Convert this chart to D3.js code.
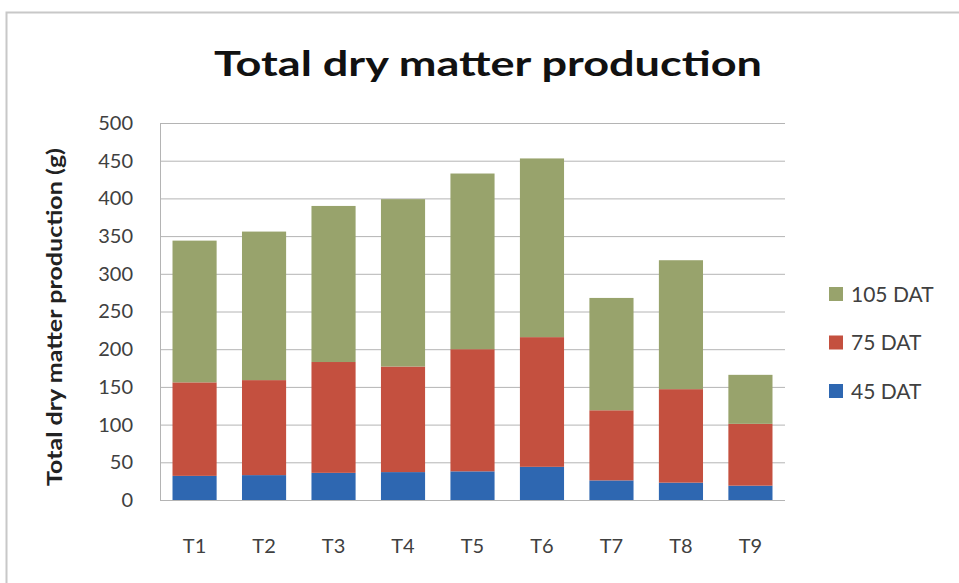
<!DOCTYPE html>
<html><head><meta charset="utf-8">
<script src="https://cdn.jsdelivr.net/npm/d3@7"></script>
<style>html,body{margin:0;padding:0;background:#fff;}svg{display:block;}</style>
</head><body>
<svg id="c" width="959" height="583"></svg>
<script>
const categories = ["T1","T2","T3","T4","T5","T6","T7","T8","T9"];
const dat45  = [32, 33, 36, 37, 38, 44, 26, 23, 19];
const dat75  = [124, 126, 147, 140, 162, 172, 93, 124, 82];
const dat105 = [188, 197, 207, 222, 233, 237, 149, 171, 65];
const seriesNames = ["45 DAT", "75 DAT", "105 DAT"];
const seriesColors = ["#2e67b1", "#c4503f", "#98a36c"];
const yTicks = [0, 50, 100, 150, 200, 250, 300, 350, 400, 450, 500];

const rows = categories.map((c, i) => ({cat: c, "45 DAT": dat45[i], "75 DAT": dat75[i], "105 DAT": dat105[i]}));
const stack = d3.stack().keys(seriesNames)(rows);

const svg = d3.select("#c");
const font = "Lato, 'Open Sans', sans-serif";
const m = {left: 160, right: 785, top: 123, bottom: 500};

// chart border
svg.append("path").attr("d", "M6.5,600 L6.5,12.5 L980,12.5")
  .attr("fill", "none").attr("stroke", "#c8c8c8").attr("stroke-width", 2);

const x = d3.scaleBand().domain(categories).range([m.left, m.right]).paddingInner(0.365).paddingOuter(0.18);
const y = d3.scaleLinear().domain([0, 500]).range([m.bottom, m.top]);

// gridlines
svg.append("g").selectAll("line").data(yTicks).join("line")
  .attr("x1", m.left).attr("x2", m.right)
  .attr("y1", d => y(d) + 0.5).attr("y2", d => y(d) + 0.5)
  .attr("stroke", "#b4b4b4").attr("stroke-width", 1);
// y axis line
svg.append("line").attr("x1", m.left + 0.5).attr("x2", m.left + 0.5)
  .attr("y1", m.top).attr("y2", m.bottom).attr("stroke", "#b4b4b4");

// bars
svg.append("g").selectAll("g").data(stack).join("g")
  .attr("fill", (d, i) => seriesColors[i])
  .selectAll("rect").data(d => d).join("rect")
  .attr("x", d => x(d.data.cat))
  .attr("width", x.bandwidth())
  .attr("y", d => y(d[1]))
  .attr("height", d => y(d[0]) - y(d[1]));

// y ticks
const yAxis = svg.append("g").attr("transform", `translate(${m.left},0)`)
  .call(d3.axisLeft(y).tickValues(yTicks).tickSize(0).tickPadding(27));
yAxis.select(".domain").remove();
yAxis.selectAll("text").attr("font-family", font).attr("font-size", 20).attr("fill", "#404040");

// x ticks
const xAxis = svg.append("g").attr("transform", `translate(0,${m.bottom})`)
  .call(d3.axisBottom(x).tickSize(0).tickPadding(39));
xAxis.select(".domain").remove();
xAxis.selectAll("text").attr("font-family", font).attr("font-size", 20).attr("fill", "#404040");

// title
svg.append("text").attr("x", 488).attr("y", 76).attr("text-anchor", "middle")
  .attr("font-family", font).attr("font-weight", "bold").attr("font-size", 35)
  .attr("fill", "#111").attr("textLength", 548).attr("lengthAdjust", "spacingAndGlyphs")
  .text("Total dry matter production");

// y title
svg.append("text").attr("transform", "translate(62,317) rotate(-90)").attr("text-anchor", "middle")
  .attr("font-family", font).attr("font-weight", "bold").attr("font-size", 20)
  .attr("fill", "#222").attr("textLength", 338).attr("lengthAdjust", "spacingAndGlyphs")
  .text("Total dry matter production (g)");

// legend
const legendOrder = [2, 1, 0];
const lg = svg.append("g").selectAll("g").data(legendOrder).join("g")
  .attr("transform", (d, i) => `translate(829,${294 + i * 48.5})`);
lg.append("rect").attr("x", 0).attr("y", -7).attr("width", 14).attr("height", 14)
  .attr("fill", d => seriesColors[d]);
lg.append("text").attr("x", 22).attr("y", 0).attr("dy", "0.36em")
  .attr("font-family", font).attr("font-size", 21).attr("fill", "#404040")
  .text(d => seriesNames[d]);
</script>
</body></html>
